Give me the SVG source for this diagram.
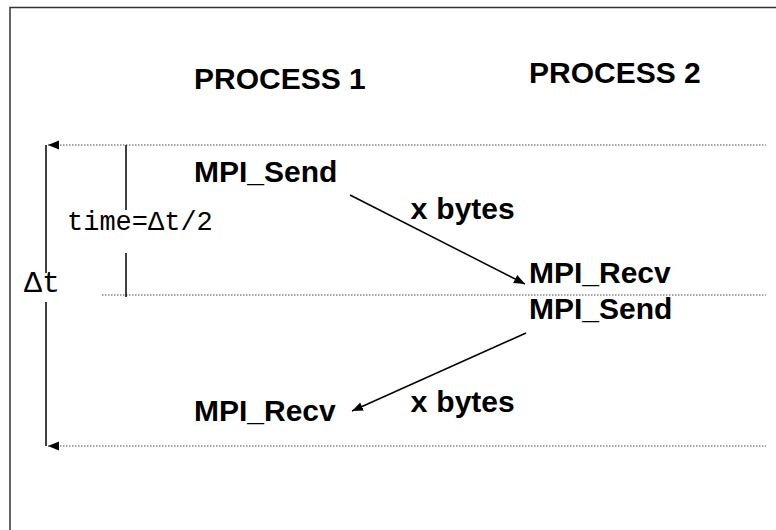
<svg xmlns="http://www.w3.org/2000/svg" width="776" height="530" viewBox="0 0 776 530">
<style>
.lbl{font-family:"Liberation Sans",Arial,sans-serif;font-weight:bold;font-size:30px;fill:#000}
.mono{font-family:"Liberation Mono","Courier New",monospace;font-weight:normal;fill:#000}
.mx{font-family:"Liberation Mono","Courier New",monospace;font-weight:bold}
.dot{stroke:#888;stroke-width:1.5;stroke-dasharray:1.5 1.5;fill:none}
.solid{stroke:#000;stroke-width:1.5;fill:none}
</style>
<defs>
<marker id="ah" markerUnits="userSpaceOnUse" markerWidth="12" markerHeight="10" refX="11" refY="5" orient="auto-start-reverse">
<path d="M0,0.5 L11,5 L0,9.5 z" fill="#000"/>
</marker>
</defs>
<rect width="776" height="530" fill="#fff"/>
<path d="M10,540 L10,7.5 L790,7.5" stroke="#333" stroke-width="1.5" fill="none"/>
<g id="connectors">
<line class="dot" x1="48" y1="145" x2="766" y2="145" marker-start="url(#ah)"/>
<line class="dot" x1="102" y1="295" x2="766" y2="295"/>
<line class="dot" x1="48" y1="446" x2="766" y2="446" marker-start="url(#ah)"/>
<line class="solid" x1="46" y1="145" x2="46" y2="273"/>
<line class="solid" x1="46" y1="302" x2="46" y2="446"/>
<line class="solid" x1="126" y1="145" x2="126" y2="210"/>
<line class="solid" x1="126" y1="253" x2="126" y2="297"/>
<line class="solid" x1="350" y1="195" x2="525" y2="284" marker-end="url(#ah)"/>
<line class="solid" x1="526" y1="333" x2="352" y2="411" marker-end="url(#ah)"/>
</g>
<g id="process1"><text class="lbl" x="194" y="89">PROCESS 1</text></g>
<g id="process2"><text class="lbl" x="529" y="83">PROCESS 2</text></g>
<g id="send1"><text class="lbl" x="194" y="182">MPI_Send</text></g>
<g id="recv2"><text class="lbl" x="529" y="283">MPI_Recv</text></g>
<g id="send2"><text class="lbl" x="529" y="319">MPI_Send</text></g>
<g id="recv1"><text class="lbl" x="194" y="421">MPI_Recv</text></g>
<g id="bytes1"><text class="lbl" x="410" y="219"><tspan class="mx">x</tspan> bytes</text></g>
<g id="bytes2"><text class="lbl" x="410" y="412"><tspan class="mx">x</tspan> bytes</text></g>
<g id="halftime"><text class="mono" x="67" y="230" font-size="27">time=Δt/2</text></g>
<g id="deltat"><text class="mono" x="24" y="292" font-size="30">Δt</text></g>
</svg>
